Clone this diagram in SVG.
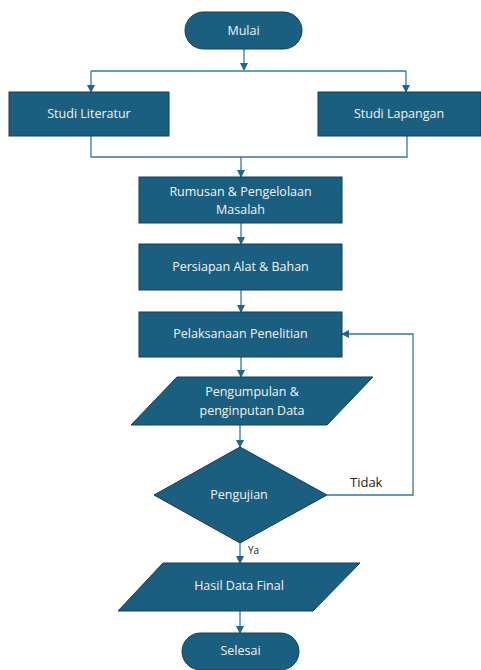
<svg xmlns="http://www.w3.org/2000/svg" width="481" height="670" viewBox="0 0 481 670">
<defs>
<style>
.n{fill:#1A5E80;stroke:#123F57;stroke-width:1}
.t{fill:#F4F4F4;font-family:"Open Sans",sans-serif;font-size:12.5px;text-anchor:middle}
.l{fill:#222;font-family:"Open Sans",sans-serif;text-anchor:start}
.c{fill:none;stroke:#3478A0;stroke-width:1.3}
</style>
<marker id="a" markerWidth="8" markerHeight="8" refX="7" refY="4" orient="auto" markerUnits="userSpaceOnUse">
<path d="M0,0 L8,4 L0,8 Z" fill="#1F6790"/>
</marker>
</defs>
<rect width="481" height="670" fill="#fff"/>
<g id="connectors">
<path class="c" d="M244,49 V70" marker-end="url(#a)"/>
<path class="c" d="M91,71 H406"/>
<path class="c" d="M91,71 V92" marker-end="url(#a)"/>
<path class="c" d="M406,71 V92" marker-end="url(#a)"/>
<path class="c" d="M91,136 V157 H407 V136"/>
<path class="c" d="M241,157 V177" marker-end="url(#a)"/>
<path class="c" d="M241,223 V244" marker-end="url(#a)"/>
<path class="c" d="M241,290 V312" marker-end="url(#a)"/>
<path class="c" d="M241,357 V377" marker-end="url(#a)"/>
<path class="c" d="M240,425 V447" marker-end="url(#a)"/>
<path class="c" d="M327,495 H413 V334 H342" marker-end="url(#a)"/>
<path class="c" d="M240,543 V563" marker-end="url(#a)"/>
<path class="c" d="M240,611 V633" marker-end="url(#a)"/>
<text class="l" x="350" y="487" font-size="13">Tidak</text>
<text class="l" x="248" y="554" font-size="10">Ya</text>
</g>
<g id="mulai">
<rect class="n" x="185" y="12" width="117" height="37" rx="18.5"/>
<text class="t" x="243.5" y="35">Mulai</text>
</g>
<g id="studi-literatur">
<rect class="n" x="9" y="92" width="160" height="44"/>
<text class="t" x="89" y="118">Studi Literatur</text>
</g>
<g id="studi-lapangan">
<rect class="n" x="318" y="92" width="163" height="44"/>
<text class="t" x="399" y="118">Studi Lapangan</text>
</g>
<g id="rumusan">
<rect class="n" x="139" y="177" width="203" height="46"/>
<text class="t" x="240.5" y="196">Rumusan &amp; Pengelolaan</text>
<text class="t" x="240.5" y="214">Masalah</text>
</g>
<g id="persiapan">
<rect class="n" x="139" y="244" width="203" height="46"/>
<text class="t" x="240.5" y="271">Persiapan Alat &amp; Bahan</text>
</g>
<g id="pelaksanaan">
<rect class="n" x="139" y="312" width="203" height="45"/>
<text class="t" x="240.5" y="338">Pelaksanaan Penelitian</text>
</g>
<g id="pengumpulan">
<polygon class="n" points="177,377 373,377 327,425 131,425"/>
<text class="t" x="252" y="396">Pengumpulan &amp;</text>
<text class="t" x="252" y="415">penginputan Data</text>
</g>
<g id="pengujian">
<polygon class="n" points="240,447 327,495 240,543 154,495"/>
<text class="t" x="239" y="499">Pengujian</text>
</g>
<g id="hasil">
<polygon class="n" points="163,563 360,563 313,611 118,611"/>
<text class="t" x="239" y="590">Hasil Data Final</text>
</g>
<g id="selesai">
<rect class="n" x="182" y="633" width="117" height="37" rx="18.5"/>
<text class="t" x="240.5" y="655">Selesai</text>
</g>
</svg>
